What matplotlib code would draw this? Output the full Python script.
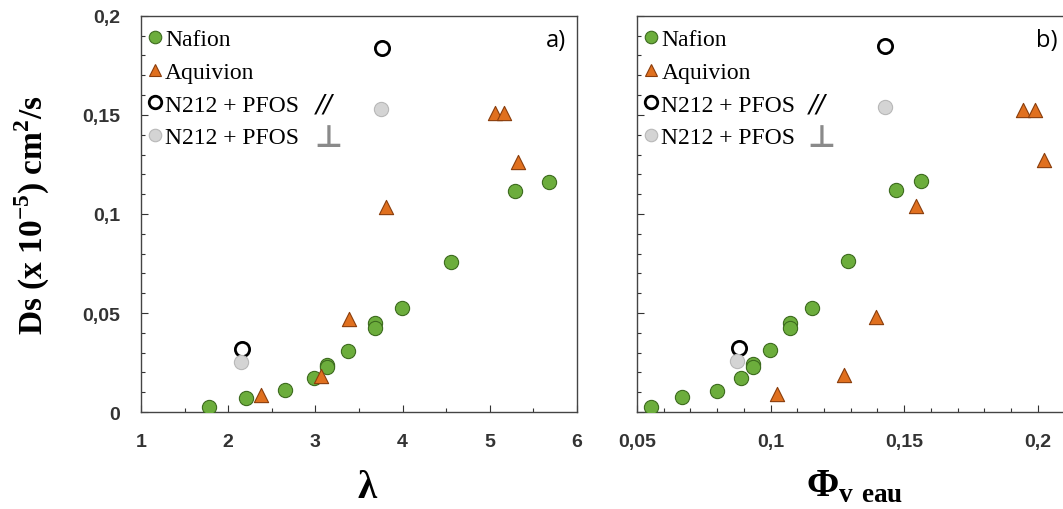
import matplotlib
matplotlib.use("Agg")
import matplotlib.pyplot as plt
from matplotlib.ticker import FuncFormatter, MultipleLocator
from matplotlib.lines import Line2D

# ---- data (panel a: lambda) ----
naf_lam = [1.78, 2.21, 2.65, 2.98, 3.13, 3.13, 3.37, 3.68, 3.68, 3.99, 4.56, 5.29, 5.68]
naf_ds_a = [0.0025, 0.0072, 0.011, 0.017, 0.024, 0.0227, 0.031, 0.045, 0.0425, 0.0527, 0.076, 0.1117, 0.116]
aqu_lam = [2.38, 3.07, 3.39, 3.81, 5.06, 5.16, 5.32]
aqu_ds_a = [0.0088, 0.018, 0.047, 0.1033, 0.151, 0.151, 0.126]
par_lam = [2.16, 3.76]
par_ds_a = [0.032, 0.184]
perp_lam = [2.15, 3.75]
perp_ds_a = [0.0255, 0.153]

# ---- data (panel b: phi_v eau) ----
naf_phi = [0.0554, 0.0669, 0.0801, 0.0888, 0.0933, 0.0933, 0.0996, 0.1071, 0.1071, 0.1155, 0.1291, 0.1471, 0.1562]
naf_ds_b = [0.0025, 0.0074, 0.0107, 0.0171, 0.0241, 0.0226, 0.0315, 0.045, 0.0424, 0.0527, 0.0763, 0.1122, 0.1164]
aqu_phi = [0.1024, 0.1276, 0.1394, 0.1545, 0.1946, 0.1991, 0.2022]
aqu_ds_b = [0.0089, 0.0188, 0.0478, 0.104, 0.1526, 0.1526, 0.1271]
par_phi = [0.0881, 0.1429]
par_ds_b = [0.0322, 0.1847]
perp_phi = [0.0874, 0.1429]
perp_ds_b = [0.0257, 0.1542]

labels = ["Nafion", "Aquivion", "N212 + PFOS", "N212 + PFOS"]

GREEN = "#6cad3c"; GREEN_E = "#3d6b1f"
ORANGE = "#e0701f"; ORANGE_E = "#8a3d0c"
GREY = "#d4d4d4"; GREY_E = "#b8b8b8"

fig = plt.figure(figsize=(10.63, 5.10), dpi=100)
ax1 = fig.add_axes([0.1326, 0.190, 0.4102, 0.777])
ax2 = fig.add_axes([0.5993, 0.190, 0.4020, 0.777])

def comma(v, pos):
    s = f"{v:.2f}".rstrip("0").rstrip(".")
    return s.replace(".", ",")

tickfont = dict(family="Liberation Sans", weight="bold", size=14)
serif = "Liberation Serif"

def draw(ax, nx, ny, ax_, ay, px, py, gx, gy):
    ms = 105
    ax.scatter(nx, ny, s=ms, c=GREEN, edgecolors=GREEN_E, linewidths=0.8, zorder=3)
    ax.scatter(ax_, ay, s=ms, marker="^", c=ORANGE, edgecolors=ORANGE_E, linewidths=0.8, zorder=3)
    ax.scatter(px, py, s=ms, facecolors="white", edgecolors="black", linewidths=2.0, zorder=3)
    ax.scatter(gx, gy, s=ms, c=GREY, edgecolors=GREY_E, linewidths=0.8, zorder=3)
    handles = [
        Line2D([], [], ls="none", marker="o", ms=9, mfc=GREEN, mec=GREEN_E, mew=0.8),
        Line2D([], [], ls="none", marker="^", ms=9, mfc=ORANGE, mec=ORANGE_E, mew=0.8),
        Line2D([], [], ls="none", marker="o", ms=9, mfc="white", mec="black", mew=2.0),
        Line2D([], [], ls="none", marker="o", ms=9, mfc=GREY, mec=GREY_E, mew=0.8),
    ]
    ax.legend(handles, labels, loc="upper left", bbox_to_anchor=(-0.012, 1.0),
              frameon=False, prop=dict(family=serif, size=17), handlelength=0.55,
              handletextpad=0.15, labelspacing=0.47, borderaxespad=0.25,
              borderpad=0.3)
    ax.text(0.402, 0.778, "//", transform=ax.transAxes, fontsize=18,
            family="DejaVu Sans", style="italic", va="center", ha="left")
    ax.text(0.398, 0.693, "\u22a5", transform=ax.transAxes, fontsize=22,
            family="DejaVu Sans", color="#8a8a8a", weight="bold", va="center", ha="left")
    ax.set_ylim(0, 0.2)
    ax.yaxis.set_major_locator(MultipleLocator(0.05))
    ax.yaxis.set_minor_locator(MultipleLocator(0.01))
    ax.tick_params(which="both", direction="in", colors="#333333", width=0.8)
    ax.tick_params(which="major", length=5)
    ax.tick_params(which="minor", length=3)
    ax.tick_params(axis="x", pad=15)
    for s in ax.spines.values():
        s.set_color("#444444"); s.set_linewidth(1.0)

draw(ax1, naf_lam, naf_ds_a, aqu_lam, aqu_ds_a, par_lam, par_ds_a, perp_lam, perp_ds_a)
draw(ax2, naf_phi, naf_ds_b, aqu_phi, aqu_ds_b, par_phi, par_ds_b, perp_phi, perp_ds_b)

ax1.set_xlim(1, 6)
ax1.xaxis.set_major_locator(MultipleLocator(1))
ax1.xaxis.set_minor_locator(MultipleLocator(0.5))
ax1.yaxis.set_major_formatter(FuncFormatter(comma))
ax1.tick_params(axis="y", pad=15)
for lab in ax1.get_xticklabels() + ax1.get_yticklabels():
    lab.set_fontproperties(tickfont)

ax2.set_xlim(0.05, 0.21)
ax2.xaxis.set_major_locator(MultipleLocator(0.05))
ax2.xaxis.set_minor_locator(MultipleLocator(0.01))
ax2.xaxis.set_major_formatter(FuncFormatter(comma))
ax2.set_yticklabels([])
for lab in ax2.get_xticklabels():
    lab.set_fontproperties(tickfont)

ax1.text(0.975, 0.94, "a)", transform=ax1.transAxes, ha="right", va="center",
         fontsize=17, family="Open Sans")
ax2.text(0.985, 0.94, "b)", transform=ax2.transAxes, ha="right", va="center",
         fontsize=17, family="Open Sans")

ax1.set_ylabel("Ds (x 10$^{\\mathregular{-5}}$) cm$^{\\mathregular{2}}$/s",
               family=serif, weight="bold", fontsize=24)
ax1.yaxis.set_label_coords(-0.205, 0.5)
ax1.set_xlabel("\u03bb", family=serif, weight="bold", fontsize=28, labelpad=14)
ax1.xaxis.label.set_x(0.518)
ax2.set_xlabel("\u03a6$_{\\mathregular{v\\ eau}}$", family=serif, weight="bold",
               fontsize=28, labelpad=13)
ax2.xaxis.label.set_x(0.51)

fig.savefig("out.png", dpi=100)
